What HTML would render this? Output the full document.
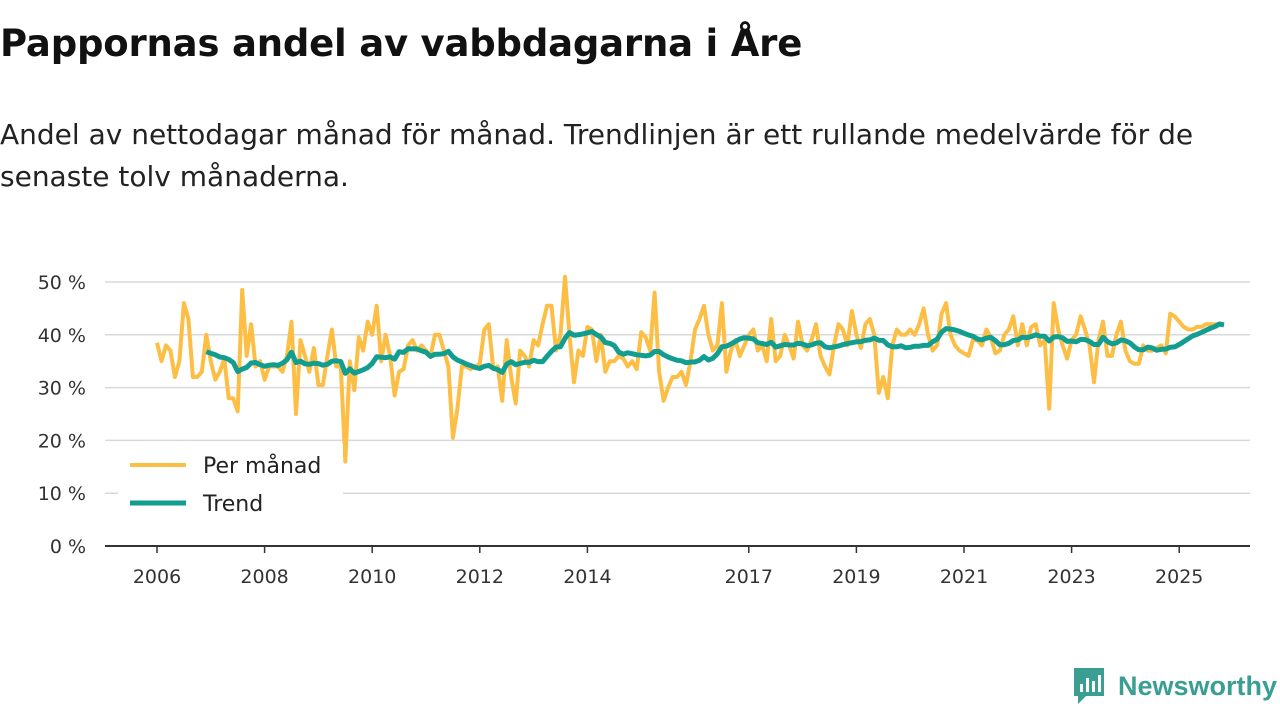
<!DOCTYPE html>
<html><head><meta charset="utf-8"><style>
body{margin:0;width:1280px;height:720px;background:#fff;font-family:"DejaVu Sans",sans-serif;overflow:hidden;position:relative;color:#111}
#title{position:absolute;left:0;top:22px;font-size:37px;font-weight:bold;margin:0;letter-spacing:-0.2px;font-family:"DejaVu Sans",sans-serif}
#sub{position:absolute;left:0;top:114px;font-size:28px;line-height:42px;width:1250px;color:#222;font-family:"DejaVu Sans",sans-serif}
#logo{position:absolute;left:1072px;top:666px;display:flex;align-items:center}
</style></head><body>
<h1 id="title">Pappornas andel av vabbdagarna i Åre</h1>
<div id="sub">Andel av nettodagar månad för månad. Trendlinjen är ett rullande medelvärde för de senaste tolv månaderna.</div>
<svg id="chart" width="1280" height="720" style="position:absolute;left:0;top:0"></svg>
<div id="logo">
<svg width="34" height="40" viewBox="0 0 34 40"><path d="M2 2h30v28H14l-8 8v-8H2z" fill="#3a9e93"/><rect x="8" y="18" width="3" height="8" fill="#fff"/><rect x="14" y="12" width="3" height="14" fill="#fff"/><rect x="20" y="15" width="3" height="11" fill="#fff"/><rect x="26" y="9" width="3" height="17" fill="#fff"/></svg>
<span style="color:#3a9e93;font-weight:bold;font-size:27px;margin-left:12px;font-family:'Liberation Sans',sans-serif">Newsworthy</span></div>
<script>
const startYear = 2006;
const monthly = [
38.5,35,38,37,32,35,46,43,32,32,33,40,
35,31.5,33,35.5,28,28,25.5,48.5,36,42,34,35,
31.5,34,34,34,33,36,42.5,25,39,36,33,37.5,
30.5,30.5,36,41,34,34,16,35,29.5,39.5,37,42.5,
40,45.5,35,40,36,28.5,33,33.5,38,39,37,38,
37,36,40,40,37,34,20.5,26,34,34,33.5,34,
34.5,41,42,33.5,34,27.5,39,32,27,37,36,34,
39,38,42,45.5,45.5,37,40,51,40,31,37,36,
41.5,41,35,40,33,35,35,36,35.5,34,35,33.5,
40.5,39.5,37,48,33,27.5,30,32,32,33,30.5,35,
41,43,45.5,40,37,38,46,33,37,39,36,38,
40,41,37,38,35,43,35,36,40,38,35.5,42.5,
38,37,39,42,36,34,32.5,38,42,41,38,44.5,
40,37.5,42,43,40,29,32,28,38,41,40,40,
41,40,42,45,40,37,38,44,46,40,38,37,
36.5,36,39,39,38,41,39.5,36.5,37,40,41,43.5,
38,42,38,41.5,42,38,39,26,46,41,38,35.5,
39,40,43.5,41,38,31,39,42.5,36,36,40,42.5,
37,35,34.5,34.5,38,37,37,37.5,38,36.5,44,43.5,
42.5,41.5,41,41,41.5,41.5,42,42,42,42,42];
const yTicks = [0,10,20,30,40,50];
const xTickYears = [2006,2008,2010,2012,2014,2017,2019,2021,2023,2025];
const legendLabels = ["Per månad","Trend"];

const NS="http://www.w3.org/2000/svg";
const svg=document.getElementById('chart');
const x0=157, pxYear=53.8, y0=546, pxUnit=5.28;
const xs=t=>x0+(t-startYear)*pxYear;
const ys=v=>y0-v*pxUnit;
const FF='DejaVu Sans, sans-serif';
function mk(tag,attrs){const e=document.createElementNS(NS,tag);for(const k in attrs)e.setAttribute(k,attrs[k]);svg.appendChild(e);return e;}
yTicks.forEach(v=>{
 const g=mk('line',{x1:105,x2:1250,y1:ys(v),y2:ys(v),stroke:v===0?'#333':'#d9d9d9','stroke-width':v===0?2:1.5});
 
 
 const t=mk('text',{x:86,y:ys(v)+7,'text-anchor':'end','font-size':19,fill:'#333','font-family':FF});
 t.textContent=v+' %';
 
 
});
xTickYears.forEach(yr=>{
 const l=mk('line',{x1:xs(yr),x2:xs(yr),y1:y0,y2:y0+7,stroke:'#333','stroke-width':1.5});
 
 
 const t=mk('text',{x:xs(yr),y:583,'text-anchor':'middle','font-size':19,fill:'#333','font-family':FF});
 t.textContent=yr;
 
 
});
const pts=monthly.map((v,i)=>xs(startYear+i/12).toFixed(1)+','+ys(v).toFixed(1));
const ml=mk('polyline',{points:pts.join(' '),fill:'none',stroke:'#fdbe45','stroke-width':4,'stroke-linejoin':'round'});


const tp=[];
for(let i=11;i<monthly.length;i++){let s=0;for(let j=i-11;j<=i;j++)s+=monthly[j];tp.push(xs(startYear+i/12).toFixed(1)+','+ys(s/12).toFixed(1));}
const tl=mk('polyline',{points:tp.join(' '),fill:'none',stroke:'#119d8f','stroke-width':5,'stroke-linejoin':'round'});


const lb=mk('rect',{x:118,y:444,width:225,height:78,fill:'#fff'});


[['#fdbe45',4],['#119d8f',5]].forEach((c,i)=>{
 const y=465+i*38;
 const l=mk('line',{x1:130,x2:186,y1:y,y2:y,stroke:c[0],'stroke-width':c[1]});
 
 
 const t=mk('text',{x:203,y:y+8,'font-size':22,fill:'#222','font-family':FF});
 t.textContent=legendLabels[i];
 
 
});
</script>
</body></html>
